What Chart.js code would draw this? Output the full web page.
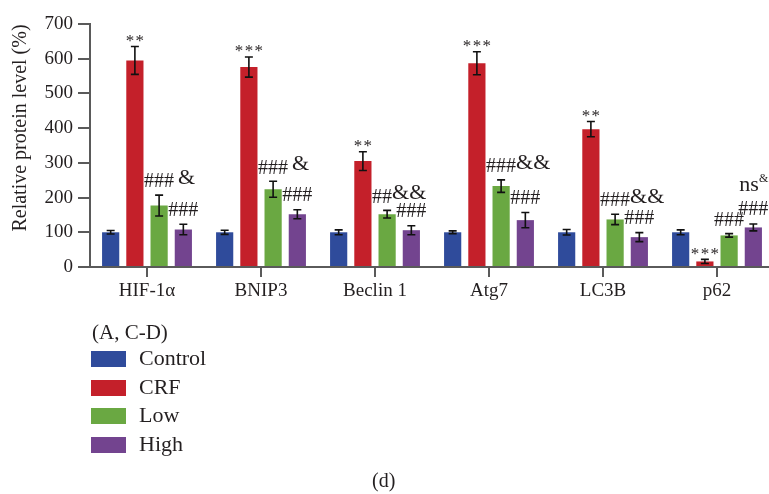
<!DOCTYPE html>
<html>
<head>
<meta charset="utf-8">
<script src="https://cdn.jsdelivr.net/npm/chart.js@4/dist/chart.umd.min.js"></script>
<style>
  html, body { margin: 0; padding: 0; background: #fff; overflow: hidden; width: 769px; height: 494px; }
  #wrap { position: relative; width: 769px; height: 494px; }
  canvas { position: absolute; left: 0; top: 0; }
  .txt { position: absolute; font-family: 'Liberation Serif', serif; color: #231f20; white-space: nowrap; line-height: 1; }
  .box { position: absolute; width: 35px; height: 16px; }
</style>
</head>
<body>
<div id="wrap">
  <canvas id="chart" width="776" height="494"></canvas>
  <div id="legend"></div>
</div>
<script>
const categories = ['HIF-1α', 'BNIP3', 'Beclin 1', 'Atg7', 'LC3B', 'p62'];
const groups = ['Control', 'CRF', 'Low', 'High'];
const colors = ['#2f4b9b', '#c4202a', '#6aa842', '#73448f'];

const control = [100, 100, 100, 100, 100, 100];
const controlErr = [5, 6, 7, 4, 8, 7];
const crf = [595, 576, 305, 587, 397, 16];
const crfErr = [40, 29, 27, 33, 22, 6];
const low = [177, 224, 152, 233, 137, 91];
const lowErr = [30, 23, 11, 18, 15, 5];
const high = [108, 152, 106, 135, 86, 114];
const highErr = [15, 13, 13, 22, 13, 10];

const yTicks = [0, 100, 200, 300, 400, 500, 600, 700];

// significance marks
const crfMarks = ['**', '***', '**', '***', '**', '***'];
const lowMarks = ['### &', '### &', '##&&', '###&&', '###&&', '###'];
const highMarks = ['###', '###', '###', '###', '###', '###'];
const highTopMarks = ['', '', '', '', '', 'ns'];

const values = [control, crf, low, high];
const errors = [controlErr, crfErr, lowErr, highErr];

const ink = '#231f20';
const axisGrey = '#5a5a5a';
const serif = "'Liberation Serif', serif";

const errorBars = {
    id: 'errorBars',
    afterDatasetsDraw(chart) {
        const ctx = chart.ctx;
        const y = chart.scales.y;
        ctx.save();
        ctx.strokeStyle = '#111';
        ctx.lineWidth = 1.6;
        chart.data.datasets.forEach((ds, di) => {
            const meta = chart.getDatasetMeta(di);
            meta.data.forEach((bar, i) => {
                const v = ds.data[i], e = errors[di][i];
                const top = y.getPixelForValue(v + e);
                const bot = y.getPixelForValue(Math.max(v - e, 0));
                ctx.beginPath();
                ctx.moveTo(bar.x, top); ctx.lineTo(bar.x, bot);
                ctx.moveTo(bar.x - 4, top); ctx.lineTo(bar.x + 4, top);
                ctx.moveTo(bar.x - 4, bot); ctx.lineTo(bar.x + 4, bot);
                ctx.stroke();
            });
        });
        ctx.restore();
    }
};

const marks = {
    id: 'marks',
    afterDraw(chart) {
        const ctx = chart.ctx;
        const y = chart.scales.y;
        ctx.save();
        ctx.fillStyle = ink;
        ctx.textBaseline = 'middle';

        const errTop = (di, i) => y.getPixelForValue(values[di][i] + errors[di][i]);

        // stars over CRF
        chart.getDatasetMeta(1).data.forEach((bar, i) => {
            ctx.font = '17px ' + serif;
            ctx.textAlign = 'center';
            ctx.fillText(crfMarks[i].split('').join('\u200A'), bar.x, errTop(1, i) - 5);
        });

        // hashes / ampersands over Low
        chart.getDatasetMeta(2).data.forEach((bar, i) => {
            const m = lowMarks[i].match(/^(#*)(\s*)(.*)$/);
            const t = errTop(2, i);
            let x = bar.x - 15;
            ctx.textAlign = 'left';
            ctx.font = '20px ' + serif;
            ctx.fillText(m[1], x, t - 13);
            x += ctx.measureText(m[1]).width + (m[2] ? 4 : 0);
            if (m[3]) {
                ctx.font = '22px ' + serif;
                ctx.fillText(m[3], x, t - 17);
            }
        });

        // hashes over High
        chart.getDatasetMeta(3).data.forEach((bar, i) => {
            const t = errTop(3, i);
            const x = bar.x - 15;
            ctx.textAlign = 'left';
            ctx.font = '20px ' + serif;
            ctx.fillText(highMarks[i], x, t - 14);
            if (highTopMarks[i]) {
                ctx.font = '22px ' + serif;
                ctx.fillText(highTopMarks[i], x + 1, t - 39);
                const w = ctx.measureText(highTopMarks[i]).width;
                ctx.font = '12px ' + serif;
                ctx.fillText('&', x + 1 + w, t - 45);
            }
        });

        // y axis title
        ctx.font = '20px ' + serif;
        ctx.textAlign = 'center';
        ctx.translate(21, 128);
        ctx.rotate(-Math.PI / 2);
        ctx.fillText('Relative protein level (%)', 0, 0);
        ctx.restore();
    }
};

new Chart(document.getElementById('chart'), {
    type: 'bar',
    data: {
        labels: categories,
        datasets: groups.map((g, i) => ({
            label: g,
            data: values[i],
            backgroundColor: colors[i],
            borderWidth: 0,
            barPercentage: 0.71,
            categoryPercentage: 0.85
        }))
    },
    options: {
        responsive: false,
        animation: false,
        layout: { padding: { left: 0, right: 2, top: 24, bottom: 187 } },
        plugins: {
            legend: { display: false },
            tooltip: { enabled: false }
        },
        scales: {
            x: {
                offset: true,
                grid: { offset: false, drawOnChartArea: false, tickLength: 10, color: axisGrey, lineWidth: 2 },
                border: { color: axisGrey, width: 2 },
                ticks: { color: ink, font: { family: serif, size: 19 }, padding: 3, maxRotation: 0 },
                afterFit(scale) { scale.height = 40; }
            },
            y: {
                min: 0,
                max: 700,
                afterBuildTicks(scale) { scale.ticks = yTicks.map(v => ({ value: v })); },
                grid: { drawOnChartArea: false, tickLength: 12, color: axisGrey, lineWidth: 2 },
                border: { color: axisGrey, width: 2 },
                ticks: { color: ink, font: { family: serif, size: 19 }, padding: 5 },
                afterFit(scale) { scale.width = 90; }
            }
        }
    },
    plugins: [errorBars, marks]
});

// legend under the plot
const legend = document.getElementById('legend');
let html = '<div class="txt" style="left:92px;top:322px;font-size:21px">(A, C-D)</div>';
groups.forEach((g, i) => {
    const cy = 359 + i * 28.7;
    html += `<div class="box" style="left:91px;top:${cy - 8}px;background:${colors[i]}"></div>`;
    html += `<div class="txt" style="left:139px;top:${cy - 12}px;font-size:22px">${g}</div>`;
});
html += '<div class="txt" style="left:372px;top:470px;font-size:20px">(d)</div>';
legend.innerHTML = html;
</script>
</body>
</html>
